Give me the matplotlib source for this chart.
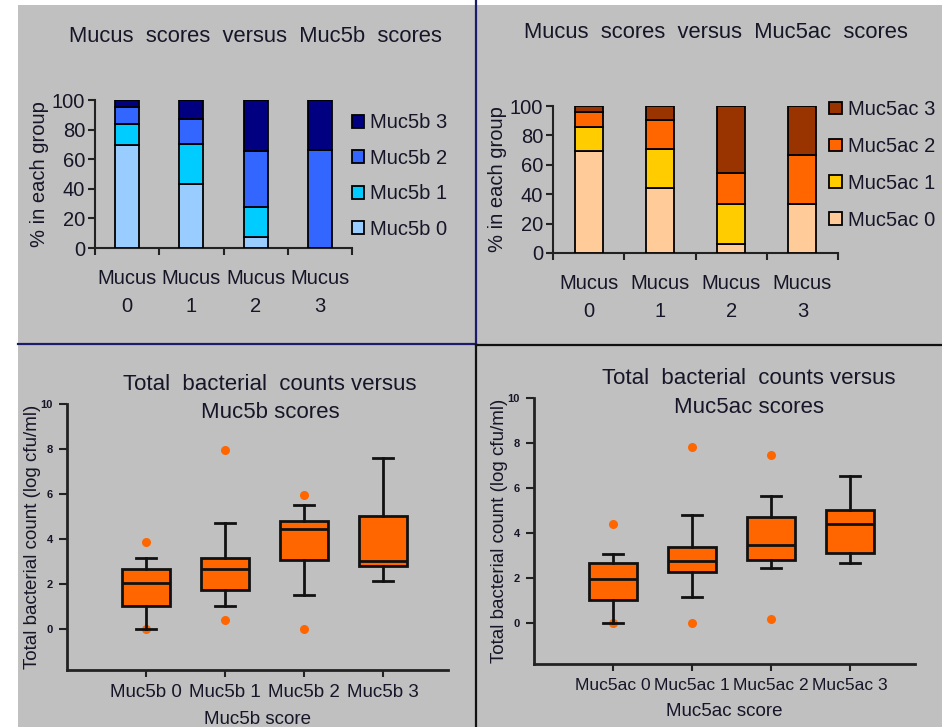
import matplotlib.pyplot as plt
from matplotlib.lines import Line2D
from matplotlib.patches import Rectangle, Patch
import numpy as np

plt.rcParams['font.family'] = ['Liberation Sans', 'DejaVu Sans']

# ---- data: stacked bars (% in each group) ----
mucus_cats = ['Mucus\n0', 'Mucus\n1', 'Mucus\n2', 'Mucus\n3']

muc5b_labels = ['Muc5b 0', 'Muc5b 1', 'Muc5b 2', 'Muc5b 3']
muc5b_0 = [69.6, 43.0, 7.2, 0.0]
muc5b_1 = [14.2, 27.3, 20.3, 0.0]
muc5b_2 = [11.7, 17.1, 38.0, 66.0]
muc5b_3 = [4.5, 12.6, 34.5, 34.0]

muc5ac_labels = ['Muc5ac 0', 'Muc5ac 1', 'Muc5ac 2', 'Muc5ac 3']
muc5ac_0 = [69.7, 44.5, 6.1, 33.0]
muc5ac_1 = [15.8, 26.3, 27.0, 0.0]
muc5ac_2 = [10.6, 19.7, 21.2, 34.0]
muc5ac_3 = [3.9, 9.5, 45.7, 33.0]

# ---- data: box plots (log cfu/ml) ----
b_cats = ['Muc5b 0', 'Muc5b 1', 'Muc5b 2', 'Muc5b 3']
b_whislo = [0.0, 1.04, 1.53, 2.15]
b_q1 = [1.04, 1.73, 3.08, 2.83]
b_med = [2.06, 2.68, 4.44, 3.04]
b_q3 = [2.68, 3.16, 4.81, 5.05]
b_whishi = [3.19, 4.74, 5.53, 7.59]
b_fliers = [[3.90, 0.0], [7.96, 0.44], [5.96, 0.03], []]

ac_cats = ['Muc5ac 0', 'Muc5ac 1', 'Muc5ac 2', 'Muc5ac 3']
ac_whislo = [0.0, 1.17, 2.44, 2.66]
ac_q1 = [1.02, 2.26, 2.83, 3.14]
ac_med = [1.97, 2.75, 3.46, 4.41]
ac_q3 = [2.68, 3.39, 4.70, 5.03]
ac_whishi = [3.08, 4.79, 5.65, 6.52]
ac_fliers = [[4.42, 0.0], [7.81, 0.03], [7.49, 0.18], []]

blue_cols = ['#99ccff', '#00ccff', '#3366ff', '#000080']
brown_cols = ['#ffcc99', '#ffcc00', '#ff6600', '#993300']
BG = '#c0c0c0'
TXT = '#161628'
W, H = 942, 727


def px_axes(fig, x0, y0, x1, y1):
    # pixel box (top-left origin) -> axes
    ax = fig.add_axes([x0 / W, 1 - y1 / H, (x1 - x0) / W, (y1 - y0) / H])
    ax.set_facecolor('none')
    return ax


def stacked(ax, series, labels, colors, bar_w):
    x = np.arange(len(mucus_cats))
    bottom = np.zeros(len(x))
    handles = []
    for vals, lab, col in zip(series, labels, colors):
        ax.bar(x, vals, bar_w, bottom=bottom, color=col, edgecolor='black', linewidth=1.3, zorder=3)
        bottom += np.array(vals)
        handles.append(Patch(facecolor=col, edgecolor='black', linewidth=1.3, label=lab))
    ax.set_xlim(-0.5, 3.5)
    ax.set_ylim(0, 100)
    ax.set_yticks(range(0, 101, 20))
    ax.set_xticks(np.arange(-0.5, 4, 1))
    ax.set_xticklabels([])
    ax.set_xticks(x, minor=True)
    ax.set_xticklabels(mucus_cats, minor=True, fontsize=14.5, color=TXT, linespacing=1.6)
    ax.tick_params(axis='x', which='major', direction='out', length=5, width=1.5, color='#222222')
    ax.tick_params(axis='x', which='minor', length=0, pad=15)
    ax.tick_params(axis='y', direction='out', length=5, width=1.5, color='#222222',
                   labelsize=14.5, labelcolor=TXT, pad=2)
    for s in ['top', 'right']:
        ax.spines[s].set_visible(False)
    for s in ['left', 'bottom']:
        ax.spines[s].set_linewidth(1.5)
        ax.spines[s].set_color('#222222')
    ax.set_ylabel('% in each group', fontsize=14.5, color=TXT, labelpad=2)
    return handles[::-1]


def boxes(ax, cats, wlo, q1, med, q3, whi, fliers, xlabel, tick_fs):
    stats = []
    for i in range(len(cats)):
        stats.append(dict(whislo=wlo[i], q1=q1[i], med=med[i], q3=q3[i], whishi=whi[i],
                          fliers=fliers[i]))
    ax.bxp(stats, positions=[1, 2, 3, 4], widths=0.61, patch_artist=True, capwidths=0.25,
           boxprops=dict(facecolor='#ff6600', edgecolor='#111111', linewidth=2),
           medianprops=dict(color='#111111', linewidth=2),
           whiskerprops=dict(color='#111111', linewidth=2),
           capprops=dict(color='#111111', linewidth=2, zorder=3),
           flierprops=dict(marker='o', markerfacecolor='#ff6600', markeredgecolor='none',
                           markersize=6.5, zorder=1))
    ax.set_xlim(0, 4.82)
    ax.set_ylim(-1.8, 10)
    ax.set_yticks(range(0, 11, 2))
    ax.set_xticks([1, 2, 3, 4])
    ax.set_xticklabels(cats, fontsize=tick_fs, color=TXT)
    ax.tick_params(axis='x', direction='out', length=5, width=1.5, color='#222222', pad=5)
    ax.tick_params(axis='y', direction='out', length=6, width=1.5, color='#222222',
                   labelsize=8, labelcolor=TXT, pad=4)
    for lab in ax.get_yticklabels():
        lab.set_fontweight('bold')
    for s in ['top', 'right']:
        ax.spines[s].set_visible(False)
    ax.spines['bottom'].set_bounds(0, 4.82)
    ax.spines['left'].set_bounds(-1.8, 10)
    for s in ['left', 'bottom']:
        ax.spines[s].set_linewidth(2)
        ax.spines[s].set_color('#222222')
    ax.set_xlabel(xlabel, fontsize=13.5, color=TXT, labelpad=7)
    ax.set_ylabel('Total bacterial count (log cfu/ml)', fontsize=13.5, color=TXT, labelpad=0)


fig = plt.figure(figsize=(9.42, 7.27), dpi=100, facecolor='white')
fig.add_artist(Rectangle((18 / W, 0), 1 - 18 / W, 1 - 5 / H, transform=fig.transFigure,
                         facecolor=BG, edgecolor='none', zorder=0))
# panel dividers
fig.add_artist(Line2D([476 / W, 476 / W], [1, 1 - 344 / H], transform=fig.transFigure,
                      color='#1c1c6a', linewidth=1.6))
fig.add_artist(Line2D([18 / W, 476 / W], [1 - 344 / H, 1 - 344 / H], transform=fig.transFigure,
                      color='#1c1c6a', linewidth=1.6))
fig.add_artist(Line2D([476 / W, 1], [1 - 345 / H, 1 - 345 / H], transform=fig.transFigure,
                      color='#111111', linewidth=1.6))
fig.add_artist(Line2D([476 / W, 476 / W], [1 - 345 / H, 0], transform=fig.transFigure,
                      color='#111111', linewidth=1.6))

# top left
ax1 = px_axes(fig, 95, 100, 352, 248)
h1 = stacked(ax1, [muc5b_0, muc5b_1, muc5b_2, muc5b_3], muc5b_labels, blue_cols, 0.375)
ax1.legend(handles=h1, loc='upper left', bbox_to_anchor=(1.0, 0.91), frameon=False,
           fontsize=14.5, labelcolor=TXT, handlelength=0.6, handleheight=0.6,
           handletextpad=0.3, labelspacing=0.82, borderaxespad=0, borderpad=0)
fig.text(255 / W, 1 - 37 / H, 'Mucus  scores  versus  Muc5b  scores', ha='center', va='center',
         fontsize=15.8, color=TXT)

# top right
ax2 = px_axes(fig, 553, 106, 838, 253)
h2 = stacked(ax2, [muc5ac_0, muc5ac_1, muc5ac_2, muc5ac_3], muc5ac_labels, brown_cols, 0.39)
ax2.legend(handles=h2, loc='upper left', bbox_to_anchor=(0.97, 1.04), frameon=False,
           fontsize=14.5, labelcolor=TXT, handlelength=0.6, handleheight=0.6,
           handletextpad=0.3, labelspacing=0.89, borderaxespad=0, borderpad=0)
fig.text(716 / W, 1 - 33 / H, 'Mucus  scores  versus  Muc5ac  scores', ha='center', va='center',
         fontsize=15.8, color=TXT)

# bottom left
ax3 = px_axes(fig, 67, 404, 448, 670)
boxes(ax3, b_cats, b_whislo, b_q1, b_med, b_q3, b_whishi, b_fliers, 'Muc5b score', 13.5)
fig.text(270 / W, 1 - 398.5 / H, 'Total  bacterial  counts versus\nMuc5b scores', ha='center',
         va='center', fontsize=16, color=TXT, linespacing=1.5)

# bottom right
ax4 = px_axes(fig, 534, 398, 915, 664)
boxes(ax4, ac_cats, ac_whislo, ac_q1, ac_med, ac_q3, ac_whishi, ac_fliers, 'Muc5ac score', 12.5)
fig.text(749 / W, 1 - 393 / H, 'Total  bacterial  counts versus\nMuc5ac scores', ha='center',
         va='center', fontsize=16, color=TXT, linespacing=1.5)

fig.savefig('out.png', dpi=100, facecolor='white')
